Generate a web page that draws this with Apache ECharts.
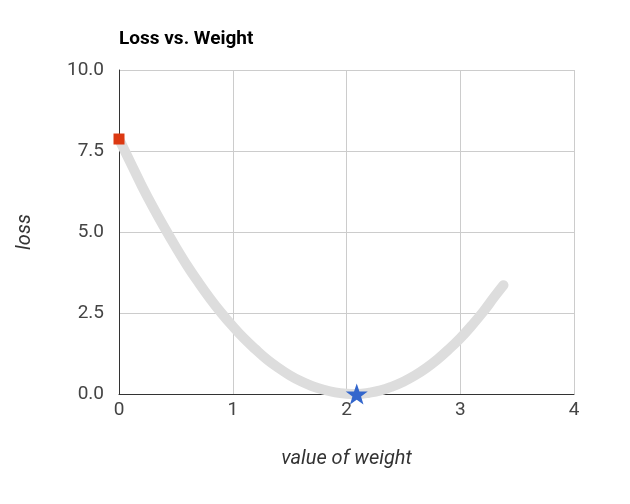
<!DOCTYPE html>
<html><head><meta charset="utf-8">
<script src="https://cdn.jsdelivr.net/npm/echarts@6/dist/echarts.min.js"></script>
<style>html,body{margin:0;padding:0;background:#fff}#c{width:630px;height:504px}</style>
</head><body><div id="c"></div>
<script>
const weights = [0,0.1,0.2,0.3,0.4,0.5,0.6,0.7,0.8,0.9,1.0,1.1,1.2,1.3,1.4,1.5,1.6,1.7,1.8,1.9,2.0,2.1,2.2,2.3,2.4,2.5,2.6,2.7,2.8,2.9,3.0,3.1,3.2,3.3,3.38];
const losses = [7.87,7.15,6.43,5.76,5.13,4.53,3.96,3.44,2.95,2.50,2.09,1.71,1.38,1.07,0.81,0.58,0.39,0.24,0.13,0.05,0.01,0.00,0.04,0.11,0.23,0.38,0.57,0.80,1.07,1.38,1.72,2.11,2.53,3.00,3.36];
const startPoint = [0, 7.87];
const minPoint = [2.09, 0.0];
const yTicks = [0, 2.5, 5, 7.5, 10];
const xTicks = [0, 1, 2, 3, 4];

const chart = echarts.init(document.getElementById('c'), null, {renderer:'canvas'});
const star = 'path://M50,0 L61.8,35 L98,35 L68.8,56.7 L79.4,91 L50,70 L20.6,91 L31.2,56.7 L2,35 L38.2,35 Z';
chart.setOption({
  animation:false,
  title:{text:'Loss vs. Weight', left:114, top:25, textStyle:{fontFamily:'Roboto', fontWeight:'bold', fontSize:19, color:'#000'}},
  grid:{left:119, right:56, top:70, bottom:110},
  xAxis:{type:'value', min:xTicks[0], max:xTicks[xTicks.length-1], interval:1,
    name:'value of weight', nameLocation:'middle', nameGap:55,
    nameTextStyle:{fontFamily:'Roboto', fontStyle:'italic', fontSize:20, color:'#333'},
    axisLine:{show:true, onZero:false, lineStyle:{color:'#333', width:1}},
    axisTick:{show:false},
    axisLabel:{fontFamily:'Roboto', fontSize:19, color:'#444', margin:7, formatter:v=>String(v)},
    splitLine:{show:true, lineStyle:{color:'#ccc'}}},
  yAxis:{type:'value', min:yTicks[0], max:yTicks[yTicks.length-1], interval:2.5,
    name:'loss', nameLocation:'middle', nameGap:84, nameRotate:90,
    nameTextStyle:{fontFamily:'Roboto', fontStyle:'italic', fontSize:20, color:'#333'},
    axisLine:{show:true, lineStyle:{color:'#333', width:1}},
    axisTick:{show:false},
    axisLabel:{fontFamily:'Roboto', fontSize:19, color:'#444', margin:15, formatter:v=>v.toFixed(1)},
    splitLine:{show:true, lineStyle:{color:'#ccc'}}},
  series:[
    {type:'line', data:weights.map((w,i)=>[w,losses[i]]), smooth:0.4, showSymbol:false,
     lineStyle:{color:'#dddddd', width:10, cap:'round', join:'round'}, z:2},
    {type:'scatter', data:[startPoint], symbol:'rect', symbolSize:11, itemStyle:{color:'#dc3912', opacity:1}, clip:false, z:3},
    {type:'scatter', data:[minPoint], symbol:star, symbolSize:[22,21], itemStyle:{color:'#3366cc', opacity:1}, clip:false, z:4}
  ]
});
</script></body></html>
